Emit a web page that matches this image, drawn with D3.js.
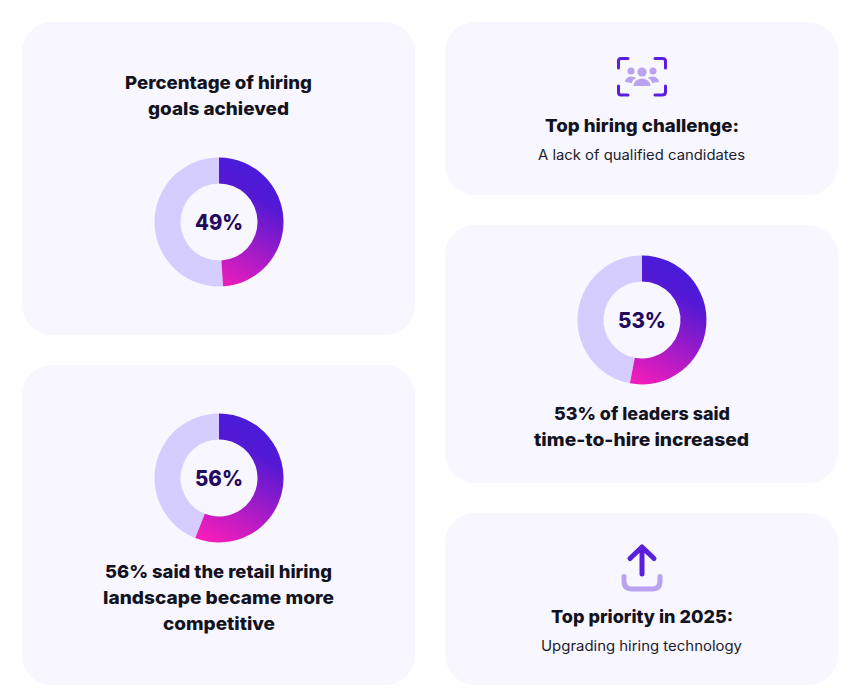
<!DOCTYPE html>
<html><head><meta charset="utf-8">
<script src="https://cdn.jsdelivr.net/npm/d3@7"></script>
<style>html,body{margin:0;padding:0;background:#fff}svg{display:block}text{font-family:Inter,"Noto Sans",sans-serif}</style>
</head><body><svg id="c" width="868" height="700"></svg>
<script>
const donutValues = [49, 56, 53];
const donutLabels = ["49%", "56%", "53%"];
const cardBoxes = [[22,22,393,313],[22,365,393,320],[445,22,393,173],[445,225,393,258],[445,513,393,172]];
const donutCenters = [[219,222],[219,478],[642,320]];
const headings = [
  ["Percentage of hiring",312-125,218.5,89],["goals achieved",289-148,218.5,115],
  ["56% said the retail hiring",332-105,218.5,578],["landscape became more",334-103,218.5,604],["competitive",275-163,219,630],
  ["Top hiring challenge:",739-545,642,132],
  ["53% of leaders said",730-554,642,420],["time-to-hire increased",749-534,641.5,446],
  ["Top priority in 2025:",733-551,642,623]];
const subs = [["A lack of qualified candidates",745-538,641.5,160],["Upgrading hiring technology",742-541,641.5,651]];
const svg = d3.select("#c");
const defs = svg.append("defs");
svg.selectAll("rect.card").data(cardBoxes).join("rect").attr("class","card")
  .attr("x",d=>d[0]).attr("y",d=>d[1]).attr("width",d=>d[2]).attr("height",d=>d[3]).attr("rx",30).attr("fill","#F8F6FF");
const R=64.5,r=38.5;
const arc=d3.arc().innerRadius(r).outerRadius(R);
const angle=d3.scaleLinear().domain([0,100]).range([0,2*Math.PI]);
donutValues.forEach((v,i)=>{
  const [cx,cy]=donutCenters[i];
  const g=svg.append("g").attr("transform",`translate(${cx},${cy})`);
  const id="grad"+i;
  const lg=defs.append("linearGradient").attr("id",id).attr("gradientUnits","userSpaceOnUse")
    .attr("x1",48).attr("y1",-42).attr("x2",-8).attr("y2",66);
  lg.append("stop").attr("offset",0).attr("stop-color","#4A1BD9");
  lg.append("stop").attr("offset",.18).attr("stop-color","#5519D4");
  lg.append("stop").attr("offset",1).attr("stop-color","#F91DBA");
  g.append("path").attr("d",arc({startAngle:angle(v),endAngle:angle(100)})).attr("fill","#D5CDFF");
  g.append("path").attr("d",arc({startAngle:0,endAngle:angle(v)})).attr("fill",`url(#${id})`);
  g.append("text").attr("text-anchor","middle").attr("y",8).attr("font-size",21).attr("font-weight",800)
   .attr("textLength",48).attr("lengthAdjust","spacingAndGlyphs").attr("fill","#22095E").text(donutLabels[i]);
});
svg.selectAll("text.h").data(headings).join("text").attr("class","h")
  .attr("x",d=>d[2]).attr("y",d=>d[3]).attr("text-anchor","middle").attr("font-size",18).attr("font-weight",800)
  .attr("fill","#13131F").attr("textLength",d=>d[1]).attr("lengthAdjust","spacingAndGlyphs").text(d=>d[0]);
svg.selectAll("text.s").data(subs).join("text").attr("class","s")
  .attr("x",d=>d[2]).attr("y",d=>d[3]).attr("text-anchor","middle").attr("font-size",14).attr("font-weight",400)
  .attr("fill","#1B1B2B").attr("textLength",d=>d[1]).attr("lengthAdjust","spacingAndGlyphs").text(d=>d[0]);
const ic=svg.append("g").attr("transform","translate(600,40)");
const dark="#5A1FDC", light="#B9A3F0";
ic.append("path").attr("fill","none").attr("stroke",dark).attr("stroke-width",3).attr("stroke-linecap","round").attr("stroke-linejoin","round")
  .attr("d","M18.5,28 V21 Q18.5,18.5 21,18.5 H28 M55,18.5 H62 Q65.5,18.5 65.5,21 V28 M18.5,46 V52 Q18.5,55 21,55 H28 M55,55 H62 Q65.5,55 65.5,52 V46");
ic.append("g").attr("fill",light).call(g=>{
  g.append("circle").attr("cx",42).attr("cy",32).attr("r",4.6);
  g.append("circle").attr("cx",31).attr("cy",31).attr("r",3.5);
  g.append("circle").attr("cx",53).attr("cy",31).attr("r",3.5);
  g.append("path").attr("d","M33.5,46 Q34,39 42,38.5 Q50,39 50.5,46 Z");
  g.append("path").attr("d","M25,42 Q25.5,37 31,36.5 Q35,36.5 36,38 Q32.5,39.5 32,43 Z");
  g.append("path").attr("d","M59,42 Q58.5,37 53,36.5 Q49,36.5 48,38 Q51.5,39.5 52,43 Z");
});
const up=svg.append("g").attr("transform","translate(600,530)");
up.append("path").attr("fill","none").attr("stroke",light).attr("stroke-width",5).attr("stroke-linecap","round")
  .attr("d","M24,46.5 V51 Q24,59 32,59 H52 Q60,59 60,51 V46.5");
up.append("path").attr("fill","none").attr("stroke",dark).attr("stroke-width",5).attr("stroke-linecap","round").attr("stroke-linejoin","round")
  .attr("d","M42,44 V17 M30,28.5 L42,17 L54,28.5");
</script></body></html>
